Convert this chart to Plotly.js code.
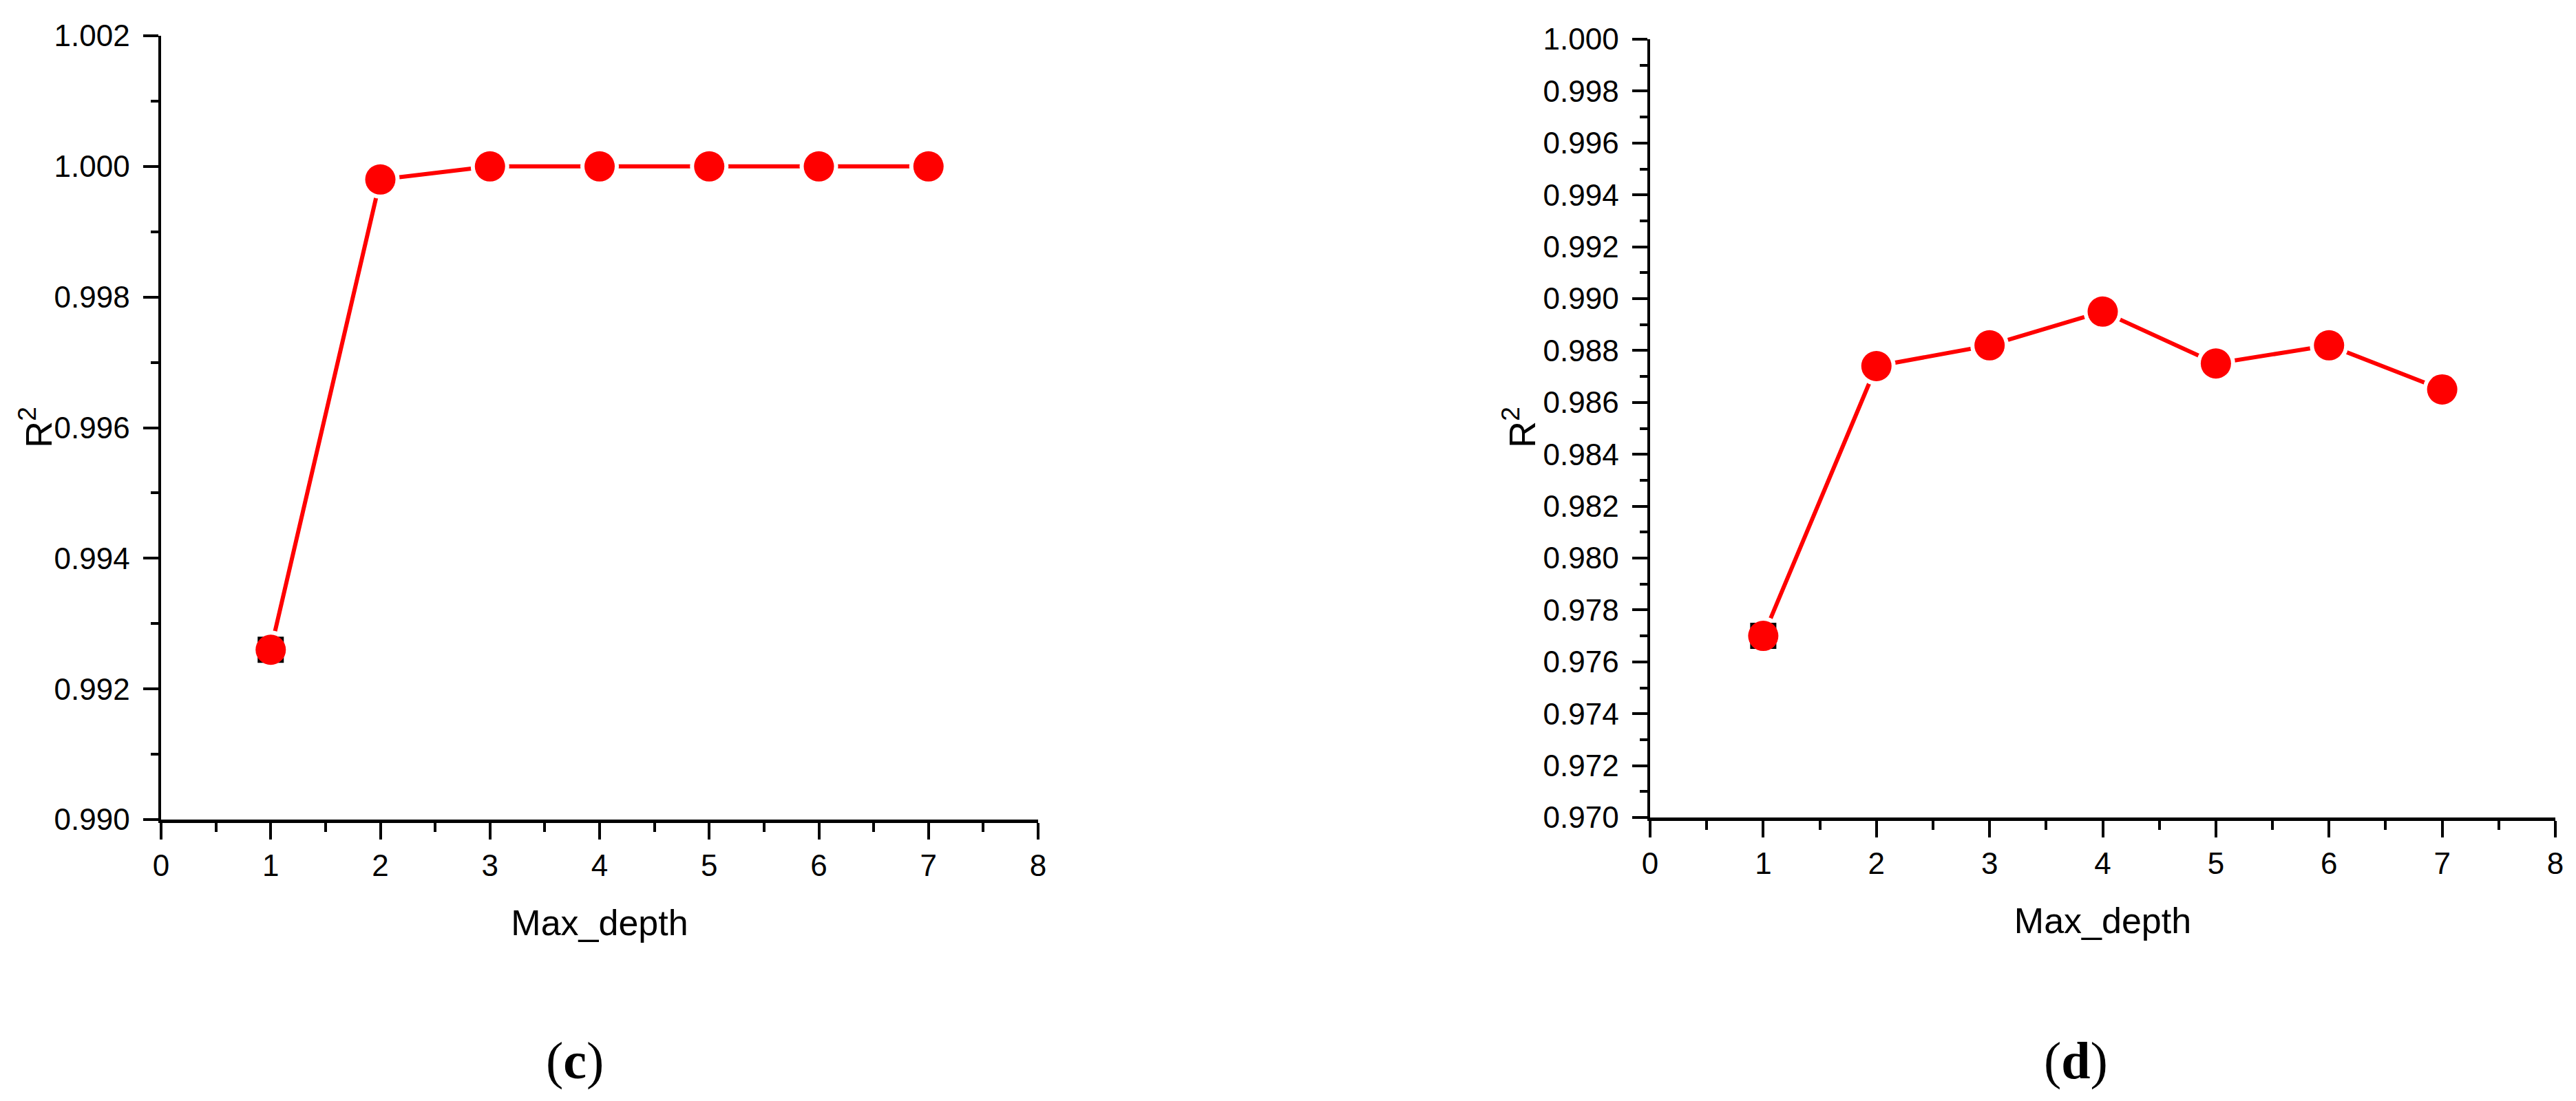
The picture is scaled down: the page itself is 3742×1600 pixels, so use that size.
<!DOCTYPE html>
<html>
<head>
<meta charset="utf-8">
<script src="https://cdn.plot.ly/plotly-3.0.1.min.js"></script>
<style>
  html, body { margin: 0; padding: 0; background: #ffffff; }
  #chart { width: 3742px; height: 1600px; }
</style>
</head>
<body>
<div id="chart"></div>
<script>
// ---- data ----
var maxDepth = [1, 2, 3, 4, 5, 6, 7];
var r2PanelC = [0.9926, 0.9998, 1.0000, 1.0000, 1.0000, 1.0000, 1.0000];
var r2PanelD = [0.9770, 0.9874, 0.9882, 0.9895, 0.9875, 0.9882, 0.9865];

var xTickVals = [0, 1, 2, 3, 4, 5, 6, 7, 8];
var yTickValsC = [0.990, 0.992, 0.994, 0.996, 0.998, 1.000, 1.002];
var yTickValsD = [0.970, 0.972, 0.974, 0.976, 0.978, 0.980, 0.982, 0.984, 0.986,
                  0.988, 0.990, 0.992, 0.994, 0.996, 0.998, 1.000];
var panelLabels = ['(<b>c</b>)', '(<b>d</b>)'];
var xTitle = 'Max_depth';
var yTitle = 'R<sup>2</sup>';

// ---- layout helpers ----
var W = 3742, H = 1600;
function fx(px) { return px / W; }
function fy(px) { return 1 - px / H; }

var RED = '#ff0000';
var SANS = 'Liberation Sans, Arial, sans-serif';
var SERIF = 'Liberation Serif, Times New Roman, serif';

function seriesTraces(y, xa, ya) {
  return [
    { x: maxDepth, y: y, xaxis: xa, yaxis: ya, type: 'scatter', mode: 'lines',
      line: { color: RED, width: 6 }, hoverinfo: 'skip', showlegend: false },
    { x: maxDepth, y: y, xaxis: xa, yaxis: ya, type: 'scatter', mode: 'markers',
      marker: { symbol: 'circle', color: '#ffffff', size: 56, line: { width: 0 } },
      hoverinfo: 'skip', showlegend: false, cliponaxis: false },
    { x: maxDepth.slice(0, 1), y: y.slice(0, 1), xaxis: xa, yaxis: ya, type: 'scatter', mode: 'markers',
      marker: { symbol: 'square', color: '#000000', size: 38, line: { width: 0 } },
      hoverinfo: 'skip', showlegend: false, cliponaxis: false },
    { x: maxDepth, y: y, xaxis: xa, yaxis: ya, type: 'scatter', mode: 'markers',
      marker: { symbol: 'circle', color: RED, size: 44, line: { width: 0 } },
      showlegend: false, cliponaxis: false }
  ];
}

var data = [].concat(
  seriesTraces(r2PanelC, 'x', 'y'),
  seriesTraces(r2PanelD, 'x2', 'y2')
);

function xAxis(domain, anchor) {
  return {
    domain: domain, anchor: anchor, range: [0, 8],
    tickmode: 'array', tickvals: xTickVals, ticktext: xTickVals.map(String),
    ticks: 'outside', ticklen: 24, tickwidth: 4, tickcolor: '#000',
    minor: { dtick: 0.5, tick0: 0, ticks: 'outside', ticklen: 13, tickwidth: 4, tickcolor: '#000', showgrid: false },
    showline: true, linewidth: 5, linecolor: '#000',
    showgrid: false, zeroline: false, automargin: false,
    tickfont: { family: SANS, size: 44, color: '#000' },
    title: { text: xTitle, font: { family: SANS, size: 52, color: '#000' }, standoff: 43 }
  };
}
function yAxis(domain, anchor, vals) {
  var lo = vals[0], hi = vals[vals.length - 1];
  return {
    domain: domain, anchor: anchor, range: [lo - 1e-9, hi + 1e-9],
    tickmode: 'array', tickvals: vals, ticktext: vals.map(function (v) { return v.toFixed(3); }),
    ticks: 'outside', ticklen: 22, tickwidth: 4, tickcolor: '#000',
    minor: { dtick: 0.001, tick0: lo, ticks: 'outside', ticklen: 11, tickwidth: 4, tickcolor: '#000', showgrid: false },
    showline: true, linewidth: 4.5, linecolor: '#000',
    showgrid: false, zeroline: false, automargin: false,
    ticklabelstandoff: 10,
    tickfont: { family: SANS, size: 44, color: '#000' }
  };
}

function yTitleAnn(xpx, ypx) {
  return { text: yTitle, xref: 'paper', yref: 'paper', x: fx(xpx), y: fy(ypx),
    xanchor: 'center', yanchor: 'middle', textangle: -90, showarrow: false,
    font: { family: SANS, size: 54, color: '#000' } };
}
function panelAnn(text, xpx, ypx) {
  return { text: text, xref: 'paper', yref: 'paper', x: fx(xpx), y: fy(ypx),
    xanchor: 'center', yanchor: 'middle', showarrow: false,
    font: { family: SERIF, size: 76, color: '#000' } };
}

var layout = {
  width: W, height: H,
  margin: { l: 0, r: 0, t: 0, b: 0, pad: 0 },
  paper_bgcolor: '#ffffff', plot_bgcolor: '#ffffff',
  showlegend: false,
  xaxis: xAxis([fx(234), fx(1508)], 'y'),
  yaxis: yAxis([fy(1191), fy(52)], 'x', yTickValsC),
  xaxis2: xAxis([fx(2397), fx(3712)], 'y2'),
  yaxis2: yAxis([fy(1188), fy(57)], 'x2', yTickValsD),
  annotations: [
    yTitleAnn(52, 621),
    yTitleAnn(2207, 621),
    panelAnn(panelLabels[0], 835, 1541),
    panelAnn(panelLabels[1], 3015, 1541)
  ]
};

Plotly.newPlot('chart', data, layout, { staticPlot: true, displayModeBar: false });
</script>
</body>
</html>
